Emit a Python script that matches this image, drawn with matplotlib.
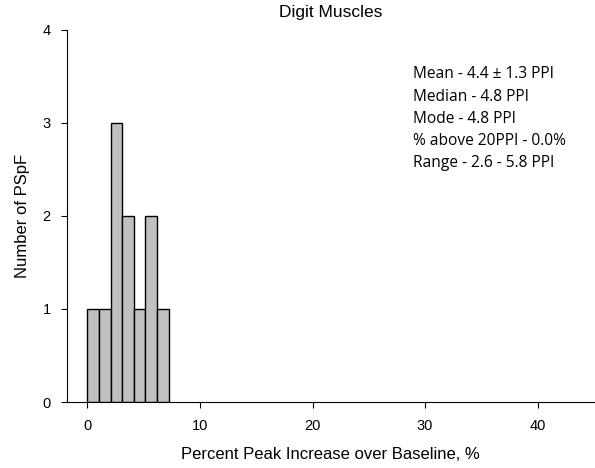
import numpy as np
import matplotlib.pyplot as plt

plt.rcParams['font.family'] = ['Liberation Sans', 'DejaVu Sans']

# histogram bins
bin_edges = [0, 1.03, 2.06, 3.09, 4.12, 5.15, 6.18, 7.21]
counts = [1, 1, 3, 2, 1, 2, 1]

stats_lines = [
    "Mean - 4.4 \u00b1 1.3 PPI",
    "Median - 4.8 PPI",
    "Mode - 4.8 PPI",
    "% above 20PPI - 0.0%",
    "Range - 2.6 - 5.8 PPI",
]

fig = plt.figure(figsize=(5.95, 4.68), dpi=100)
ax = fig.add_axes([0.113, 0.141, 0.885, 0.795])

widths = np.diff(bin_edges)
ax.bar(bin_edges[:-1], counts, width=widths, align='edge',
       color='#c0c0c0', edgecolor='black', linewidth=1.0)

ax.set_xlim(-1.8, 45)
ax.set_ylim(0, 4)
ax.set_xticks([0, 10, 20, 30, 40])
ax.set_yticks([0, 1, 2, 3, 4])
ax.spines['top'].set_visible(False)
ax.spines['right'].set_visible(False)
ax.tick_params(direction='out', length=4, labelsize=10.5, pad=8)

ax.set_title('Digit Muscles', fontsize=12.5, pad=9)
ax.set_xlabel('Percent Peak Increase over Baseline, %', fontsize=12, labelpad=10)
ax.set_ylabel('Number of PSpF', fontsize=12, labelpad=9)

ax.text(0.657, 0.902, "\n".join(stats_lines), transform=ax.transAxes,
        ha='left', va='top', fontsize=11.2, family='Open Sans', linespacing=1.52)

fig.savefig('out.png', dpi=100)
